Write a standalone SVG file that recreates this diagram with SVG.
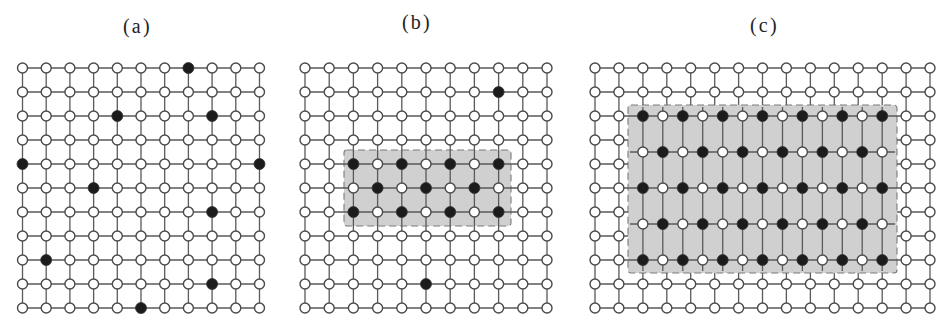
<svg xmlns="http://www.w3.org/2000/svg" width="936" height="320" viewBox="0 0 936 320">
<style>
.bg{fill:#ffffff}
.ln{fill:none;stroke:#5a5a5a;stroke-width:1.3}
.w{fill:#ffffff;stroke:#4a4a4a;stroke-width:1.4}
.k{fill:#1c1c1c;stroke:#333333;stroke-width:0.8}
.shade{fill:#d0d0d0;stroke:#7a7a7a;stroke-width:1.1;stroke-dasharray:7 4}
.lbl{font-family:"Liberation Serif","Times New Roman",serif;font-size:20px;fill:#222222;letter-spacing:2.2px}
</style>
<defs>
<circle id="w" r="5" class="w"/>
<circle id="k" r="5.5" class="k"/>
</defs>
<rect class="bg" x="0" y="0" width="936" height="320"/>

<g id="labels">
<text class="lbl" x="123" y="33">(a)</text>
<text class="lbl" x="402" y="29">(b)</text>
<text class="lbl" x="750" y="32">(c)</text>
</g>

<g id="regions">
<rect id="region-b" class="shade" x="344" y="150" width="167" height="76" rx="3"/>
<rect id="region-c" class="shade" x="628" y="105" width="269" height="168" rx="3"/>
</g>

<g id="connectors">
<path id="edges-a" class="ln" d="M22.5 68H259.5M22.5 92H259.5M22.5 116H259.5M22.5 140H259.5M22.5 164H259.5M22.5 188H259.5M22.5 212H259.5M22.5 236H259.5M22.5 260H259.5M22.5 284H259.5M22.5 308H259.5
M22.5 68V308M46.2 68V308M69.9 68V308M93.6 68V308M117.3 68V308M141 68V308M164.7 68V308M188.4 68V308M212.1 68V308M235.8 68V308M259.5 68V308"/>
<path id="edges-b" class="ln" d="M305 68H547M305 92H547M305 116H547M305 140H547M305 164H547M305 188H547M305 212H547M305 236H547M305 260H547M305 284H547M305 308H547
M305 68V308M329.2 68V308M353.4 68V308M377.6 68V308M401.8 68V308M426 68V308M450.2 68V308M474.4 68V308M498.6 68V308M522.8 68V308M547 68V308"/>
<path id="edges-c" class="ln" d="M595 68H930M595 92H930M595 284H930M595 308H930
M595 116H930M595 188H930M595 260H930
M595 140H628M595 164H628M595 212H628M595 236H628
M897 140H930M897 164H930M897 212H930M897 236H930
M630 152H895M630 224H895
M595 68V308M618.9 68V308M906.1 68V308M930 68V308
M642.9 68V105M666.8 68V105M690.7 68V105M714.7 68V105M738.6 68V105M762.5 68V105M786.4 68V105M810.4 68V105M834.3 68V105M858.2 68V105M882.2 68V105
M642.9 273V308M666.8 273V308M690.7 273V308M714.7 273V308M738.6 273V308M762.5 273V308M786.4 273V308M810.4 273V308M834.3 273V308M858.2 273V308M882.2 273V308
M642.9 107V271M662.8 107V271M682.8 107V271M702.7 107V271M722.7 107V271M742.6 107V271M762.5 107V271M782.5 107V271M802.4 107V271M822.4 107V271M842.3 107V271M862.2 107V271M882.2 107V271"/>
</g>

<g id="nodes-a">
<use href="#w" x="22.5" y="68"/><use href="#w" x="46.2" y="68"/><use href="#w" x="69.9" y="68"/><use href="#w" x="93.6" y="68"/><use href="#w" x="117.3" y="68"/><use href="#w" x="141" y="68"/><use href="#w" x="164.7" y="68"/><use href="#k" x="188.4" y="68"/><use href="#w" x="212.1" y="68"/><use href="#w" x="235.8" y="68"/><use href="#w" x="259.5" y="68"/>
<use href="#w" x="22.5" y="92"/><use href="#w" x="46.2" y="92"/><use href="#w" x="69.9" y="92"/><use href="#w" x="93.6" y="92"/><use href="#w" x="117.3" y="92"/><use href="#w" x="141" y="92"/><use href="#w" x="164.7" y="92"/><use href="#w" x="188.4" y="92"/><use href="#w" x="212.1" y="92"/><use href="#w" x="235.8" y="92"/><use href="#w" x="259.5" y="92"/>
<use href="#w" x="22.5" y="116"/><use href="#w" x="46.2" y="116"/><use href="#w" x="69.9" y="116"/><use href="#w" x="93.6" y="116"/><use href="#k" x="117.3" y="116"/><use href="#w" x="141" y="116"/><use href="#w" x="164.7" y="116"/><use href="#w" x="188.4" y="116"/><use href="#k" x="212.1" y="116"/><use href="#w" x="235.8" y="116"/><use href="#w" x="259.5" y="116"/>
<use href="#w" x="22.5" y="140"/><use href="#w" x="46.2" y="140"/><use href="#w" x="69.9" y="140"/><use href="#w" x="93.6" y="140"/><use href="#w" x="117.3" y="140"/><use href="#w" x="141" y="140"/><use href="#w" x="164.7" y="140"/><use href="#w" x="188.4" y="140"/><use href="#w" x="212.1" y="140"/><use href="#w" x="235.8" y="140"/><use href="#w" x="259.5" y="140"/>
<use href="#k" x="22.5" y="164"/><use href="#w" x="46.2" y="164"/><use href="#w" x="69.9" y="164"/><use href="#w" x="93.6" y="164"/><use href="#w" x="117.3" y="164"/><use href="#w" x="141" y="164"/><use href="#w" x="164.7" y="164"/><use href="#w" x="188.4" y="164"/><use href="#w" x="212.1" y="164"/><use href="#w" x="235.8" y="164"/><use href="#k" x="259.5" y="164"/>
<use href="#w" x="22.5" y="188"/><use href="#w" x="46.2" y="188"/><use href="#w" x="69.9" y="188"/><use href="#k" x="93.6" y="188"/><use href="#w" x="117.3" y="188"/><use href="#w" x="141" y="188"/><use href="#w" x="164.7" y="188"/><use href="#w" x="188.4" y="188"/><use href="#w" x="212.1" y="188"/><use href="#w" x="235.8" y="188"/><use href="#w" x="259.5" y="188"/>
<use href="#w" x="22.5" y="212"/><use href="#w" x="46.2" y="212"/><use href="#w" x="69.9" y="212"/><use href="#w" x="93.6" y="212"/><use href="#w" x="117.3" y="212"/><use href="#w" x="141" y="212"/><use href="#w" x="164.7" y="212"/><use href="#w" x="188.4" y="212"/><use href="#k" x="212.1" y="212"/><use href="#w" x="235.8" y="212"/><use href="#w" x="259.5" y="212"/>
<use href="#w" x="22.5" y="236"/><use href="#w" x="46.2" y="236"/><use href="#w" x="69.9" y="236"/><use href="#w" x="93.6" y="236"/><use href="#w" x="117.3" y="236"/><use href="#w" x="141" y="236"/><use href="#w" x="164.7" y="236"/><use href="#w" x="188.4" y="236"/><use href="#w" x="212.1" y="236"/><use href="#w" x="235.8" y="236"/><use href="#w" x="259.5" y="236"/>
<use href="#w" x="22.5" y="260"/><use href="#k" x="46.2" y="260"/><use href="#w" x="69.9" y="260"/><use href="#w" x="93.6" y="260"/><use href="#w" x="117.3" y="260"/><use href="#w" x="141" y="260"/><use href="#w" x="164.7" y="260"/><use href="#w" x="188.4" y="260"/><use href="#w" x="212.1" y="260"/><use href="#w" x="235.8" y="260"/><use href="#w" x="259.5" y="260"/>
<use href="#w" x="22.5" y="284"/><use href="#w" x="46.2" y="284"/><use href="#w" x="69.9" y="284"/><use href="#w" x="93.6" y="284"/><use href="#w" x="117.3" y="284"/><use href="#w" x="141" y="284"/><use href="#w" x="164.7" y="284"/><use href="#w" x="188.4" y="284"/><use href="#k" x="212.1" y="284"/><use href="#w" x="235.8" y="284"/><use href="#w" x="259.5" y="284"/>
<use href="#w" x="22.5" y="308"/><use href="#w" x="46.2" y="308"/><use href="#w" x="69.9" y="308"/><use href="#w" x="93.6" y="308"/><use href="#w" x="117.3" y="308"/><use href="#k" x="141" y="308"/><use href="#w" x="164.7" y="308"/><use href="#w" x="188.4" y="308"/><use href="#w" x="212.1" y="308"/><use href="#w" x="235.8" y="308"/><use href="#w" x="259.5" y="308"/>
</g>

<g id="nodes-b">
<use href="#w" x="305" y="68"/><use href="#w" x="329.2" y="68"/><use href="#w" x="353.4" y="68"/><use href="#w" x="377.6" y="68"/><use href="#w" x="401.8" y="68"/><use href="#w" x="426" y="68"/><use href="#w" x="450.2" y="68"/><use href="#w" x="474.4" y="68"/><use href="#w" x="498.6" y="68"/><use href="#w" x="522.8" y="68"/><use href="#w" x="547" y="68"/>
<use href="#w" x="305" y="92"/><use href="#w" x="329.2" y="92"/><use href="#w" x="353.4" y="92"/><use href="#w" x="377.6" y="92"/><use href="#w" x="401.8" y="92"/><use href="#w" x="426" y="92"/><use href="#w" x="450.2" y="92"/><use href="#w" x="474.4" y="92"/><use href="#k" x="498.6" y="92"/><use href="#w" x="522.8" y="92"/><use href="#w" x="547" y="92"/>
<use href="#w" x="305" y="116"/><use href="#w" x="329.2" y="116"/><use href="#w" x="353.4" y="116"/><use href="#w" x="377.6" y="116"/><use href="#w" x="401.8" y="116"/><use href="#w" x="426" y="116"/><use href="#w" x="450.2" y="116"/><use href="#w" x="474.4" y="116"/><use href="#w" x="498.6" y="116"/><use href="#w" x="522.8" y="116"/><use href="#w" x="547" y="116"/>
<use href="#w" x="305" y="140"/><use href="#w" x="329.2" y="140"/><use href="#w" x="353.4" y="140"/><use href="#w" x="377.6" y="140"/><use href="#w" x="401.8" y="140"/><use href="#w" x="426" y="140"/><use href="#w" x="450.2" y="140"/><use href="#w" x="474.4" y="140"/><use href="#w" x="498.6" y="140"/><use href="#w" x="522.8" y="140"/><use href="#w" x="547" y="140"/>
<use href="#w" x="305" y="164"/><use href="#w" x="329.2" y="164"/><use href="#k" x="353.4" y="164"/><use href="#w" x="377.6" y="164"/><use href="#k" x="401.8" y="164"/><use href="#w" x="426" y="164"/><use href="#k" x="450.2" y="164"/><use href="#w" x="474.4" y="164"/><use href="#k" x="498.6" y="164"/><use href="#w" x="522.8" y="164"/><use href="#w" x="547" y="164"/>
<use href="#w" x="305" y="188"/><use href="#w" x="329.2" y="188"/><use href="#w" x="353.4" y="188"/><use href="#k" x="377.6" y="188"/><use href="#w" x="401.8" y="188"/><use href="#k" x="426" y="188"/><use href="#w" x="450.2" y="188"/><use href="#k" x="474.4" y="188"/><use href="#w" x="498.6" y="188"/><use href="#w" x="522.8" y="188"/><use href="#w" x="547" y="188"/>
<use href="#w" x="305" y="212"/><use href="#w" x="329.2" y="212"/><use href="#k" x="353.4" y="212"/><use href="#w" x="377.6" y="212"/><use href="#k" x="401.8" y="212"/><use href="#w" x="426" y="212"/><use href="#k" x="450.2" y="212"/><use href="#w" x="474.4" y="212"/><use href="#k" x="498.6" y="212"/><use href="#w" x="522.8" y="212"/><use href="#w" x="547" y="212"/>
<use href="#w" x="305" y="236"/><use href="#w" x="329.2" y="236"/><use href="#w" x="353.4" y="236"/><use href="#w" x="377.6" y="236"/><use href="#w" x="401.8" y="236"/><use href="#w" x="426" y="236"/><use href="#w" x="450.2" y="236"/><use href="#w" x="474.4" y="236"/><use href="#w" x="498.6" y="236"/><use href="#w" x="522.8" y="236"/><use href="#w" x="547" y="236"/>
<use href="#w" x="305" y="260"/><use href="#w" x="329.2" y="260"/><use href="#w" x="353.4" y="260"/><use href="#w" x="377.6" y="260"/><use href="#w" x="401.8" y="260"/><use href="#w" x="426" y="260"/><use href="#w" x="450.2" y="260"/><use href="#w" x="474.4" y="260"/><use href="#w" x="498.6" y="260"/><use href="#w" x="522.8" y="260"/><use href="#w" x="547" y="260"/>
<use href="#w" x="305" y="284"/><use href="#w" x="329.2" y="284"/><use href="#w" x="353.4" y="284"/><use href="#w" x="377.6" y="284"/><use href="#w" x="401.8" y="284"/><use href="#k" x="426" y="284"/><use href="#w" x="450.2" y="284"/><use href="#w" x="474.4" y="284"/><use href="#w" x="498.6" y="284"/><use href="#w" x="522.8" y="284"/><use href="#w" x="547" y="284"/>
<use href="#w" x="305" y="308"/><use href="#w" x="329.2" y="308"/><use href="#w" x="353.4" y="308"/><use href="#w" x="377.6" y="308"/><use href="#w" x="401.8" y="308"/><use href="#w" x="426" y="308"/><use href="#w" x="450.2" y="308"/><use href="#w" x="474.4" y="308"/><use href="#w" x="498.6" y="308"/><use href="#w" x="522.8" y="308"/><use href="#w" x="547" y="308"/>
</g>

<g id="nodes-c">
<use href="#w" x="595" y="68"/><use href="#w" x="618.9" y="68"/><use href="#w" x="642.9" y="68"/><use href="#w" x="666.8" y="68"/><use href="#w" x="690.7" y="68"/><use href="#w" x="714.7" y="68"/><use href="#w" x="738.6" y="68"/><use href="#w" x="762.5" y="68"/><use href="#w" x="786.4" y="68"/><use href="#w" x="810.4" y="68"/><use href="#w" x="834.3" y="68"/><use href="#w" x="858.2" y="68"/><use href="#w" x="882.2" y="68"/><use href="#w" x="906.1" y="68"/><use href="#w" x="930" y="68"/>
<use href="#w" x="595" y="92"/><use href="#w" x="618.9" y="92"/><use href="#w" x="642.9" y="92"/><use href="#w" x="666.8" y="92"/><use href="#w" x="690.7" y="92"/><use href="#w" x="714.7" y="92"/><use href="#w" x="738.6" y="92"/><use href="#w" x="762.5" y="92"/><use href="#w" x="786.4" y="92"/><use href="#w" x="810.4" y="92"/><use href="#w" x="834.3" y="92"/><use href="#w" x="858.2" y="92"/><use href="#w" x="882.2" y="92"/><use href="#w" x="906.1" y="92"/><use href="#w" x="930" y="92"/>
<use href="#w" x="595" y="284"/><use href="#w" x="618.9" y="284"/><use href="#w" x="642.9" y="284"/><use href="#w" x="666.8" y="284"/><use href="#w" x="690.7" y="284"/><use href="#w" x="714.7" y="284"/><use href="#w" x="738.6" y="284"/><use href="#w" x="762.5" y="284"/><use href="#w" x="786.4" y="284"/><use href="#w" x="810.4" y="284"/><use href="#w" x="834.3" y="284"/><use href="#w" x="858.2" y="284"/><use href="#w" x="882.2" y="284"/><use href="#w" x="906.1" y="284"/><use href="#w" x="930" y="284"/>
<use href="#w" x="595" y="308"/><use href="#w" x="618.9" y="308"/><use href="#w" x="642.9" y="308"/><use href="#w" x="666.8" y="308"/><use href="#w" x="690.7" y="308"/><use href="#w" x="714.7" y="308"/><use href="#w" x="738.6" y="308"/><use href="#w" x="762.5" y="308"/><use href="#w" x="786.4" y="308"/><use href="#w" x="810.4" y="308"/><use href="#w" x="834.3" y="308"/><use href="#w" x="858.2" y="308"/><use href="#w" x="882.2" y="308"/><use href="#w" x="906.1" y="308"/><use href="#w" x="930" y="308"/>
<use href="#w" x="595" y="116"/><use href="#w" x="618.9" y="116"/><use href="#w" x="906.1" y="116"/><use href="#w" x="930" y="116"/>
<use href="#w" x="595" y="140"/><use href="#w" x="618.9" y="140"/><use href="#w" x="906.1" y="140"/><use href="#w" x="930" y="140"/>
<use href="#w" x="595" y="164"/><use href="#w" x="618.9" y="164"/><use href="#w" x="906.1" y="164"/><use href="#w" x="930" y="164"/>
<use href="#w" x="595" y="188"/><use href="#w" x="618.9" y="188"/><use href="#w" x="906.1" y="188"/><use href="#w" x="930" y="188"/>
<use href="#w" x="595" y="212"/><use href="#w" x="618.9" y="212"/><use href="#w" x="906.1" y="212"/><use href="#w" x="930" y="212"/>
<use href="#w" x="595" y="236"/><use href="#w" x="618.9" y="236"/><use href="#w" x="906.1" y="236"/><use href="#w" x="930" y="236"/>
<use href="#w" x="595" y="260"/><use href="#w" x="618.9" y="260"/><use href="#w" x="906.1" y="260"/><use href="#w" x="930" y="260"/>
</g>

<g id="nodes-c-dense">
<use href="#k" x="642.9" y="116"/><use href="#w" x="662.8" y="116"/><use href="#k" x="682.8" y="116"/><use href="#w" x="702.7" y="116"/><use href="#k" x="722.7" y="116"/><use href="#w" x="742.6" y="116"/><use href="#k" x="762.5" y="116"/><use href="#w" x="782.5" y="116"/><use href="#k" x="802.4" y="116"/><use href="#w" x="822.4" y="116"/><use href="#k" x="842.3" y="116"/><use href="#w" x="862.2" y="116"/><use href="#k" x="882.2" y="116"/>
<use href="#w" x="642.9" y="152"/><use href="#k" x="662.8" y="152"/><use href="#w" x="682.8" y="152"/><use href="#k" x="702.7" y="152"/><use href="#w" x="722.7" y="152"/><use href="#k" x="742.6" y="152"/><use href="#w" x="762.5" y="152"/><use href="#k" x="782.5" y="152"/><use href="#w" x="802.4" y="152"/><use href="#k" x="822.4" y="152"/><use href="#w" x="842.3" y="152"/><use href="#k" x="862.2" y="152"/><use href="#w" x="882.2" y="152"/>
<use href="#k" x="642.9" y="188"/><use href="#w" x="662.8" y="188"/><use href="#k" x="682.8" y="188"/><use href="#w" x="702.7" y="188"/><use href="#k" x="722.7" y="188"/><use href="#w" x="742.6" y="188"/><use href="#k" x="762.5" y="188"/><use href="#w" x="782.5" y="188"/><use href="#k" x="802.4" y="188"/><use href="#w" x="822.4" y="188"/><use href="#k" x="842.3" y="188"/><use href="#w" x="862.2" y="188"/><use href="#k" x="882.2" y="188"/>
<use href="#w" x="642.9" y="224"/><use href="#k" x="662.8" y="224"/><use href="#w" x="682.8" y="224"/><use href="#k" x="702.7" y="224"/><use href="#w" x="722.7" y="224"/><use href="#k" x="742.6" y="224"/><use href="#w" x="762.5" y="224"/><use href="#k" x="782.5" y="224"/><use href="#w" x="802.4" y="224"/><use href="#k" x="822.4" y="224"/><use href="#w" x="842.3" y="224"/><use href="#k" x="862.2" y="224"/><use href="#w" x="882.2" y="224"/>
<use href="#k" x="642.9" y="260"/><use href="#w" x="662.8" y="260"/><use href="#k" x="682.8" y="260"/><use href="#w" x="702.7" y="260"/><use href="#k" x="722.7" y="260"/><use href="#w" x="742.6" y="260"/><use href="#k" x="762.5" y="260"/><use href="#w" x="782.5" y="260"/><use href="#k" x="802.4" y="260"/><use href="#w" x="822.4" y="260"/><use href="#k" x="842.3" y="260"/><use href="#w" x="862.2" y="260"/><use href="#k" x="882.2" y="260"/>
</g>
</svg>
